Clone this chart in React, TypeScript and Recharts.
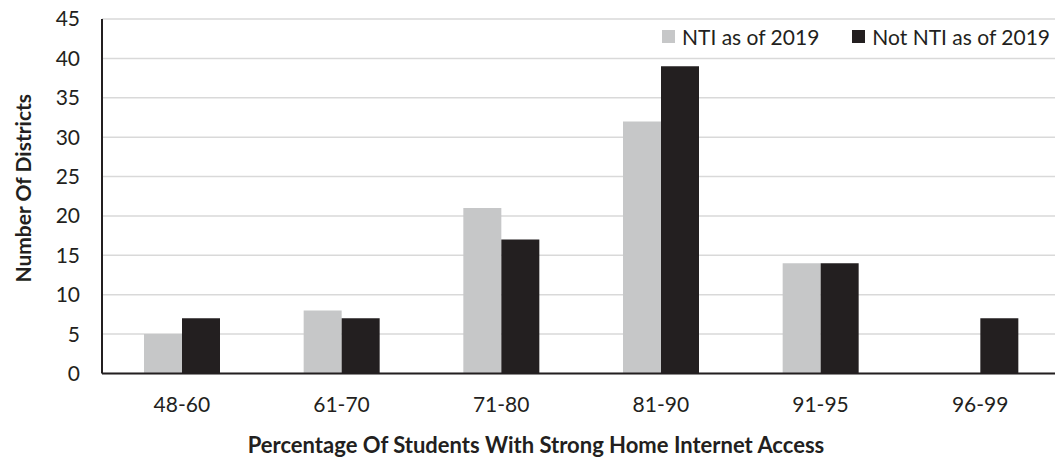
import React from 'react';
import { BarChart, Bar, XAxis, YAxis, CartesianGrid, Legend, Label } from 'recharts';

const categories = ['48-60', '61-70', '71-80', '81-90', '91-95', '96-99'];
const ntiValues = [5, 8, 21, 32, 14, 0];
const notNtiValues = [7, 7, 17, 39, 14, 7];
const yTicks = [0, 5, 10, 15, 20, 25, 30, 35, 40, 45];

const data = categories.map((c, i) => ({ range: c, nti: ntiValues[i], notNti: notNtiValues[i] }));

const FONT = 'Lato, "Open Sans", sans-serif';
const INK = '#231F20';
const GREY = '#C6C7C8';

function LegendBox({ payload }: any) {
  return (
    <div style={{ display: 'flex', justifyContent: 'flex-end', fontFamily: FONT, fontSize: 21, color: INK }}>
      {(payload || []).map((p: any, i: number) => (
        <div key={p.value} style={{ display: 'flex', alignItems: 'center', marginLeft: i === 0 ? 0 : 33 }}>
          <span style={{ display: 'inline-block', width: 13, height: 13, background: p.color, marginRight: 7 }} />
          <span>{p.value}</span>
        </div>
      ))}
    </div>
  );
}

export default function App() {
  return (
    <div style={{ position: 'absolute', left: 0, top: 0, width: 1055, height: 461, overflow: 'hidden', background: '#fff' }}>
      <BarChart width={1065} height={461} data={data} barSize={38} barGap={0}
        margin={{ top: 19, right: 5, left: 0, bottom: 0 }}>
        <CartesianGrid horizontal vertical={false} stroke="#D9D9D9" strokeWidth={1.5} />
        <XAxis dataKey="range" height={87.5} tickLine={false} tickSize={0} tickMargin={24}
          axisLine={{ stroke: INK, strokeWidth: 2 }}
          tick={{ fill: INK, fontSize: 21, fontFamily: FONT }}>
          <Label content={({ viewBox }: any) => (
            <text x={viewBox.x + viewBox.width / 2 - 45} y={453} textAnchor="middle"
              fill={INK} fontFamily={FONT} fontSize={22} fontWeight={700}>
              Percentage Of Students With Strong Home Internet Access
            </text>
          )} />
        </XAxis>
        <YAxis width={102} domain={[0, 45]} ticks={yTicks} interval={0} tickLine={false} tickSize={0} tickMargin={22}
          axisLine={{ stroke: INK, strokeWidth: 2 }}
          tick={{ fill: INK, fontSize: 21, fontFamily: FONT }}>
          <Label content={({ viewBox }: any) => {
            const cy = viewBox.y + viewBox.height / 2 - 8;
            return (
              <text x={31} y={cy} transform={`rotate(-90 31 ${cy})`} textAnchor="middle"
                fill={INK} fontFamily={FONT} fontSize={21} fontWeight={700}>
                Number Of Districts
              </text>
            );
          }} />
        </YAxis>
        <Legend verticalAlign="middle" align="center" content={<LegendBox />}
          wrapperStyle={{ top: 24, right: 15, left: 'auto', bottom: 'auto', width: 'auto' }} />
        <Bar dataKey="nti" name="NTI as of 2019" fill={GREY} isAnimationActive={false} />
        <Bar dataKey="notNti" name="Not NTI as of 2019" fill={INK} isAnimationActive={false} />
      </BarChart>
    </div>
  );
}
